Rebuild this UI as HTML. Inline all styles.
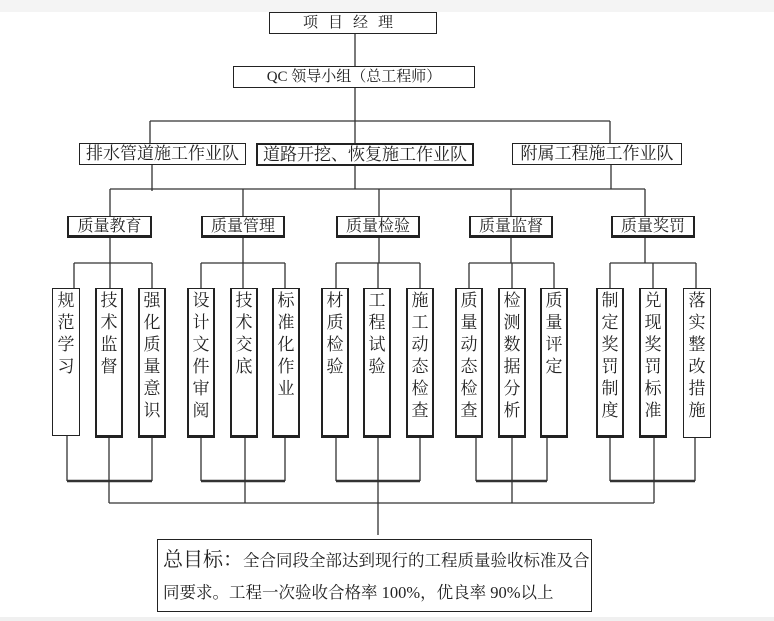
<!DOCTYPE html>
<html><head><meta charset="utf-8"><style>
body{margin:0;width:774px;height:621px;background:#fff;position:relative;overflow:hidden;font-family:"Liberation Serif","Noto Serif CJK SC","Noto Sans CJK SC",serif;color:#222}
.b{position:absolute;border:1.5px solid #222;box-sizing:border-box;background:#fff;text-align:center;white-space:nowrap}
.h{font-size:16px;line-height:20px}
.v{font-size:17px;line-height:22px;padding-top:1px;width:28px;white-space:normal;word-break:break-all}
.k{border-right-width:2px;border-bottom-width:3px;border-left-width:2px}
svg{position:absolute;left:0;top:0}
</style></head><body>
<div style="position:absolute;left:0;top:0;width:774px;height:12px;background:#f4f4f4"></div>
<div style="position:absolute;left:0;top:617px;width:774px;height:4px;background:#f0f0f0"></div>
<svg width="774" height="621" stroke="#333" stroke-width="1.3" fill="none">
<path d="M355 34V66M355 88V121M150 121H610M150 121V143M610 121V143M355 121V143"/>
<path d="M152 165V191M355 165V189M611 165V189M110 189H645M110 189V216M243 189V216M379 189V216M511 189V216M645 189V216"/>
<path d="M110 237V263M243 237V263M379 237V263M511 237V263M645 237V263"/>
<path d="M74 263H152M74 263V288M152 263V288M110 263V288"/>
<path d="M201 263H285M201 263V288M285 263V288M243 263V288"/>
<path d="M336 263H420M336 263V288M420 263V288M378 263V288"/>
<path d="M469 263H554M469 263V288M554 263V288M512 263V288"/>
<path d="M610 263H696M610 263V288M696 263V288M653 263V288"/>
<path d="M67 436V481M152 438V481M201 438V481M285 438V481M336 438V481M420 438V481M476 438V481M547 438V481M610 438V481M695 438V481"/>
<path stroke-width="2.5" d="M67 481H152M201 481H285M336 481H420M476 481H547M610 481H695"/>
<path d="M109 438V503M245 438V503M378 438V535M512 438V503M654 438V503M109 503H654"/>
</svg>
<div class="b h" style="left:269px;top:12px;width:168px;height:22px;letter-spacing:10px;font-size:15px">项目经理</div>
<div class="b h" style="left:233px;top:66px;width:242px;height:22px;font-size:15px">QC 领导小组（总工程师）</div>
<div class="b h" style="left:79px;top:143px;width:167px;height:22px;font-size:17px">排水管道施工作业队</div>
<div class="b h" style="left:256px;top:143px;width:218px;height:23px;font-size:17px;border-width:2px">道路开挖、恢复施工作业队</div>
<div class="b h" style="left:512px;top:143px;width:170px;height:22px;font-size:17px">附属工程施工作业队</div>
<div class="b h k" style="left:67px;top:216px;width:85px;height:22px">质量教育</div>
<div class="b h k" style="left:201px;top:216px;width:84px;height:22px">质量管理</div>
<div class="b h k" style="left:336px;top:216px;width:84px;height:22px">质量检验</div>
<div class="b h k" style="left:469px;top:216px;width:84px;height:22px">质量监督</div>
<div class="b h k" style="left:611px;top:216px;width:84px;height:22px">质量奖罚</div>
<div class="b v" style="left:52px;top:288px;height:148px">规范学习</div>
<div class="b v k" style="left:95px;top:288px;height:150px">技术监督</div>
<div class="b v k" style="left:138px;top:288px;height:150px">强化质量意识</div>
<div class="b v k" style="left:187px;top:288px;height:150px">设计文件审阅</div>
<div class="b v k" style="left:230px;top:288px;height:150px">技术交底</div>
<div class="b v k" style="left:272px;top:288px;height:150px">标准化作业</div>
<div class="b v k" style="left:321px;top:288px;height:150px">材质检验</div>
<div class="b v k" style="left:363px;top:288px;height:150px">工程试验</div>
<div class="b v k" style="left:406px;top:288px;height:150px">施工动态检查</div>
<div class="b v k" style="left:455px;top:288px;height:150px">质量动态检查</div>
<div class="b v k" style="left:498px;top:288px;height:150px">检测数据分析</div>
<div class="b v k" style="left:540px;top:288px;height:150px">质量评定</div>
<div class="b v k" style="left:596px;top:288px;height:150px">制定奖罚制度</div>
<div class="b v k" style="left:639px;top:288px;height:150px">兑现奖罚标准</div>
<div class="b v" style="left:683px;top:288px;height:150px">落实整改措施</div>
<div class="b" style="left:157px;top:539px;width:435px;height:73px;text-align:left;padding-left:5px;font-size:16.5px;line-height:34px;white-space:normal">
<div style="margin-top:3px"><span style="font-size:20px">总目标：</span>全合同段全部达到现行的工程质量验收标准及合</div>
<div style="margin-top:-2px">同要求。工程一次验收合格率 100%，优良率 90%以上</div>
</div>
</body></html>
